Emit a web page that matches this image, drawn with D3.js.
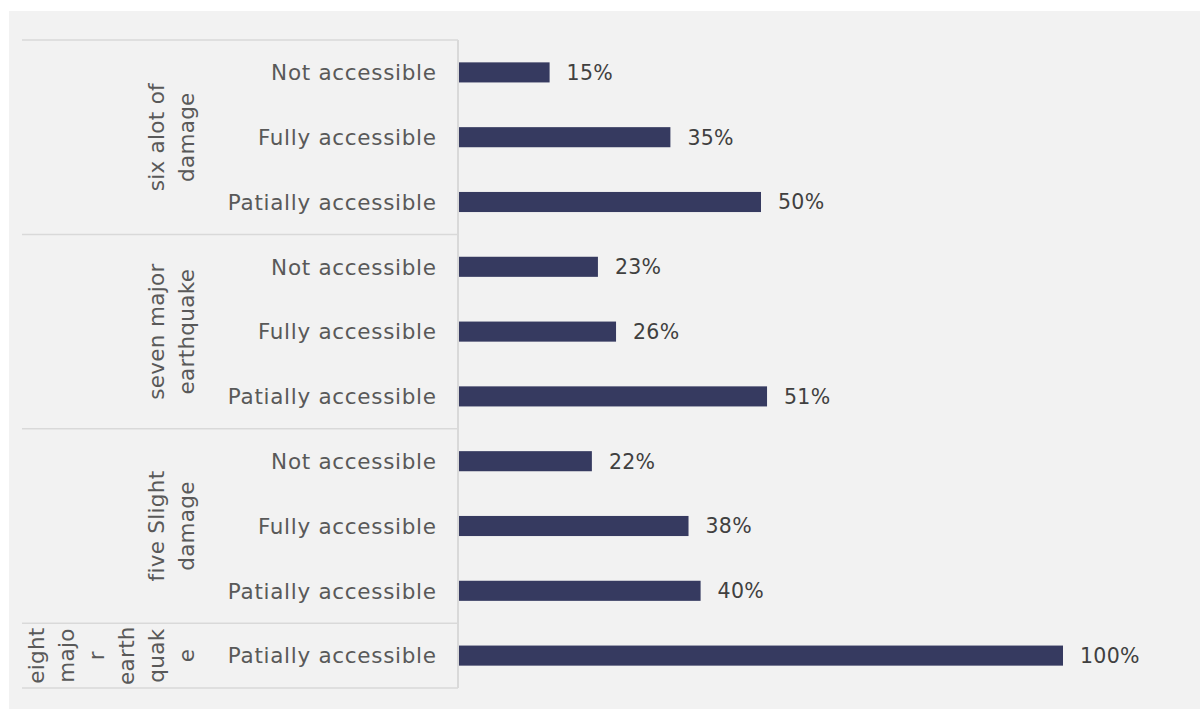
<!DOCTYPE html>
<html>
<head>
<meta charset="utf-8">
<script src="https://cdn.jsdelivr.net/npm/d3@7"></script>
<style>
  html, body { margin: 0; padding: 0; background: #ffffff; }
  svg { display: block; }
</style>
</head>
<body>
<svg id="chart" width="1200" height="709"></svg>
<script>
// ---- data ----
const groups = ["six alot of damage", "seven major earthquake", "five Slight damage", "eight major earthquake"];
const groupLines = [
  ["six alot of", "damage"],
  ["seven major", "earthquake"],
  ["five Slight", "damage"],
  ["eight", "majo", "r", "earth", "quak", "e"]
];
const categories = [
  "Not accessible", "Fully accessible", "Patially accessible",
  "Not accessible", "Fully accessible", "Patially accessible",
  "Not accessible", "Fully accessible", "Patially accessible",
  "Patially accessible"
];
const categoryGroup = [0, 0, 0, 1, 1, 1, 2, 2, 2, 3];
const values = [0.15, 0.35, 0.50, 0.23, 0.26, 0.51, 0.22, 0.38, 0.40, 1.00];
const valueLabels = ["15%", "35%", "50%", "23%", "26%", "51%", "22%", "38%", "40%", "100%"];

// ---- layout ----
const svg = d3.select("#chart");
const W = 1200, H = 709;
const plot = { left: 459, right: 1063, top: 40, bottom: 688 };
const axisLeft = 22;
const font = "'DejaVu Sans', sans-serif";
const gridColor = "#d9d9d9";

svg.append("rect").attr("x", 9).attr("y", 11).attr("width", W - 9).attr("height", H - 11)
  .attr("fill", "#f2f2f2");

const idx = d3.range(categories.length);
const y = d3.scaleBand().domain(idx).range([plot.top, plot.bottom])
  .paddingInner(0.69).paddingOuter(0.345);
const x = d3.scaleLinear().domain([0, 1]).range([plot.left, plot.right]);

// group boundaries
const bounds = [];
groups.forEach((g, gi) => {
  const rows = idx.filter(i => categoryGroup[i] === gi);
  const step = y.step();
  const top = y(rows[0]) - (step - y.bandwidth()) / 2;
  const bot = y(rows[rows.length - 1]) + y.bandwidth() + (step - y.bandwidth()) / 2;
  bounds.push({ gi, top, bot });
});

// horizontal separator lines of the category axis
const seps = [bounds[0].top].concat(bounds.map(b => b.bot));
svg.append("g").selectAll("line").data(seps).join("line")
  .attr("x1", axisLeft).attr("x2", plot.left - 1)
  .attr("y1", d => d).attr("y2", d => d)
  .attr("stroke", gridColor).attr("stroke-width", 1.5);

// vertical axis line
svg.append("line")
  .attr("x1", plot.left - 1).attr("x2", plot.left - 1)
  .attr("y1", plot.top).attr("y2", plot.bottom)
  .attr("stroke", gridColor).attr("stroke-width", 2);

// bars
svg.append("g").selectAll("rect").data(idx).join("rect")
  .attr("x", x(0))
  .attr("y", i => y(i))
  .attr("width", i => x(values[i]) - x(0))
  .attr("height", y.bandwidth())
  .attr("fill", "#363a60");

// value labels
svg.append("g").selectAll("text").data(idx).join("text")
  .attr("x", i => x(values[i]) + 17)
  .attr("y", i => y(i) + y.bandwidth() / 2)
  .attr("dy", "0.36em")
  .attr("font-family", font).attr("font-size", 20.5)
  .attr("letter-spacing", 0.3)
  .attr("fill", "#404040")
  .text(i => valueLabels[i]);

// category labels
const ls = 0.7;
svg.append("g").selectAll("text").data(idx).join("text")
  .attr("x", 436 + ls)
  .attr("y", i => y(i) + y.bandwidth() / 2)
  .attr("dy", "0.36em")
  .attr("text-anchor", "end")
  .attr("font-family", font).attr("font-size", 21.5)
  .attr("letter-spacing", ls)
  .attr("fill", "#595959")
  .text(i => categories[i]);

// group labels (rotated)
const lineGap = 30, lastBaseline = 194;
bounds.forEach(b => {
  const lines = groupLines[b.gi];
  const cy = (b.top + b.bot) / 2;
  lines.forEach((ln, li) => {
    const bx = lastBaseline - (lines.length - 1 - li) * lineGap;
    svg.append("text")
      .attr("transform", `translate(${bx},${cy}) rotate(-90)`)
      .attr("text-anchor", "middle")
      .attr("font-family", font).attr("font-size", 21.5)
      .attr("letter-spacing", 0.3)
      .attr("fill", "#595959")
      .text(ln);
  });
});
</script>
</body>
</html>
